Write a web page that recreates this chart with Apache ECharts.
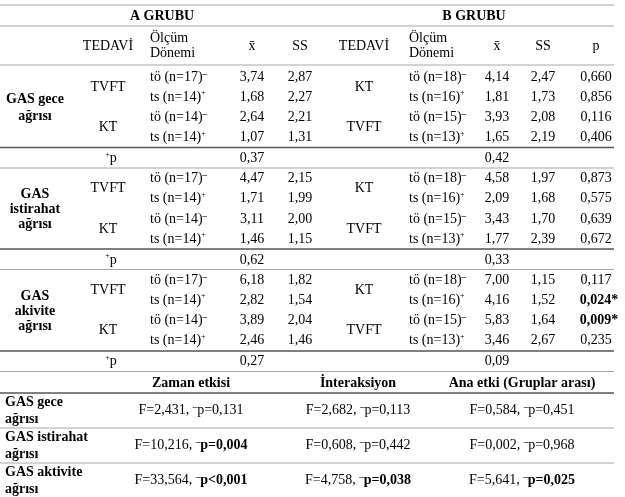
<!DOCTYPE html>
<html><head><meta charset="utf-8">
<script src="https://cdn.jsdelivr.net/npm/echarts@6/dist/echarts.min.js"></script>
<style>html,body{margin:0;padding:0;background:#fff}#c{width:625px;height:497px}</style>
</head><body><div id="c"></div>
<script>
// ---------------- data ----------------
const groupTitles = ['A GRUBU', 'B GRUBU'];
const headerA = ['TEDAVİ', 'Ölçüm\nDönemi', 'x̄', 'SS'];
const headerB = ['TEDAVİ', 'Ölçüm\nDönemi', 'x̄', 'SS', 'p'];
const measures = ['GAS gece\nağrısı', 'GAS\nistirahat\nağrısı', 'GAS\nakivite\nağrısı'];
const treatA = ['TVFT', 'KT'];
const treatB = ['KT', 'TVFT'];
const periodA = [['tö', 17], ['ts', 14], ['tö', 14], ['ts', 14]];
const periodB = [['tö', 18], ['ts', 16], ['tö', 15], ['ts', 13]];
const meanA = [[3.74, 1.68, 2.64, 1.07], [4.47, 1.71, 3.11, 1.46], [6.18, 2.82, 3.89, 2.46]];
const sdA   = [[2.87, 2.27, 2.21, 1.31], [2.15, 1.99, 2.00, 1.15], [1.82, 1.54, 2.04, 1.46]];
const meanB = [[4.14, 1.81, 3.93, 1.65], [4.58, 2.09, 3.43, 1.77], [7.00, 4.16, 5.83, 3.46]];
const sdB   = [[2.47, 1.73, 2.08, 2.19], [1.97, 1.68, 1.70, 2.39], [1.15, 1.52, 1.64, 2.67]];
const pAB   = [[0.660, 0.856, 0.116, 0.406], [0.873, 0.575, 0.639, 0.672], [0.117, 0.024, 0.009, 0.235]];
const plusPA = [0.37, 0.62, 0.27];
const plusPB = [0.42, 0.33, 0.09];

const effects = ['Zaman etkisi', 'İnteraksiyon', 'Ana etki (Gruplar arası)'];
const effectRows = ['GAS gece\nağrısı', 'GAS istirahat\nağrısı', 'GAS aktivite\nağrısı'];
const effectF = [[2.431, 2.682, 0.584], [10.216, 0.608, 0.002], [33.564, 4.758, 5.641]];
const effectP = [['=0,131', '=0,113', '=0,451'], ['=0,004', '=0,442', '=0,968'], ['<0,001', '=0,038', '=0,025']];

// ---------------- layout ----------------
const FONT = '"Liberation Serif", "Times New Roman", serif';
const FS = 14;
const L = { x0: 0, x1: 614 };
const CX = { label: 35, tedA: 108, perA: 150, meanA: 252, sdA: 300, tedB: 364, perB: 409, meanB: 497, sdB: 543, p: 596, plusP: 111, grpA: 162, grpB: 474 };
const CY = { grp: 16, hdr: 46, row0: 77, rowStep: 20.2, blockStep: 101.5, plusP: 158.5 };
const BX = { label: 5, cols: [191, 358, 522] };
const BY = { hdr: 383, row0: 410.5, rowStep: 35 };
const lightLines = [5, 26, 65, 168, 269.5, 371.5, 428, 463];
const darkLines = [147.5, 249, 351, 393];

const fmt2 = v => v.toFixed(2).replace('.', ',');
const fmt3 = v => v.toFixed(3).replace('.', ',');

// ---------------- build cells ----------------
const cells = [];
function cell(x, y, text, align, opt) { cells.push(Object.assign({ x, y, text, align: align || 'center' }, opt || {})); }
const perText = (p) => '{n|' + p[0] + ' (n=' + p[1] + ')}' + (p[0] === 'tö' ? '{dash|–}' : '{sup|+}');

cell(CX.grpA, CY.grp, groupTitles[0], 'center', { bold: true });
cell(CX.grpB, CY.grp, groupTitles[1], 'center', { bold: true });
cell(CX.tedA, CY.hdr, headerA[0]);
cell(CX.perA, CY.hdr, headerA[1], 'left', { lh: 15 });
cell(CX.meanA, CY.hdr, headerA[2]);
cell(CX.sdA, CY.hdr, headerA[3]);
cell(CX.tedB, CY.hdr, headerB[0]);
cell(CX.perB, CY.hdr, headerB[1], 'left', { lh: 15 });
cell(CX.meanB, CY.hdr, headerB[2]);
cell(CX.sdB, CY.hdr, headerB[3]);
cell(CX.p, CY.hdr, headerB[4]);

measures.forEach((m, k) => {
  const base = CY.row0 + k * CY.blockStep;
  const rowY = r => base + r * CY.rowStep;
  const mid = (rowY(0) + rowY(3)) / 2;
  cell(CX.label, mid + 1, m, 'center', { bold: true, lh: k === 0 ? 17 : 15 });
  treatA.forEach((t, j) => cell(CX.tedA, (rowY(2 * j) + rowY(2 * j + 1)) / 2, t));
  treatB.forEach((t, j) => cell(CX.tedB, (rowY(2 * j) + rowY(2 * j + 1)) / 2, t));
  for (let r = 0; r < 4; r++) {
    cell(CX.perA, rowY(r), perText(periodA[r]), 'left', { rich: true });
    cell(CX.meanA, rowY(r), fmt2(meanA[k][r]));
    cell(CX.sdA, rowY(r), fmt2(sdA[k][r]));
    cell(CX.perB, rowY(r), perText(periodB[r]), 'left', { rich: true });
    cell(CX.meanB, rowY(r), fmt2(meanB[k][r]));
    cell(CX.sdB, rowY(r), fmt2(sdB[k][r]));
    const pv = pAB[k][r];
    cell(CX.p + (pv < 0.05 ? 3 : 0), rowY(r), fmt3(pv) + (pv < 0.05 ? '*' : ''), 'center', { bold: pv < 0.05 });
  }
  const py = CY.plusP + k * CY.blockStep;
  cell(CX.plusP, py, '{sup|+}{n|p}', 'center', { rich: true });
  cell(CX.meanA, py, fmt2(plusPA[k]));
  cell(CX.meanB, py, fmt2(plusPB[k]));
});

effects.forEach((e, j) => cell(BX.cols[j], BY.hdr, e, 'center', { bold: true }));
effectRows.forEach((lab, i) => {
  const y = BY.row0 + i * BY.rowStep;
  cell(BX.label, y, lab, 'left', { bold: true, lh: 17 });
  effects.forEach((e, j) => {
    const ptxt = effectP[i][j];
    const pnum = parseFloat(ptxt.slice(1).replace(',', '.'));
    const sig = pnum < 0.05;
    const fStr = effectF[i][j].toFixed(3).replace('.', ',');
    const t = '{n|F=' + fStr + ', }{dash|–}' + (sig ? '{b|p' + ptxt + '}' : '{n|p' + ptxt + '}');
    cell(BX.cols[j], y, t, 'center', { rich: true });
  });
});

const lines = lightLines.map(y => ({ y, c: '#a8a8a8', w: 1.2 })).concat(darkLines.map(y => ({ y, c: '#555', w: 1.5 })));

// ---------------- chart ----------------
const chart = echarts.init(document.getElementById('c'), null, { renderer: 'canvas' });
const richStyles = {
  n: { fontFamily: FONT, fontSize: FS, fill: '#000', lineHeight: 16 },
  b: { fontFamily: FONT, fontSize: FS, fontWeight: 'bold', fill: '#000', lineHeight: 16 },
  sup: { fontFamily: FONT, fontSize: 8, fill: '#000', lineHeight: 9, verticalAlign: 'top' },
  dash: { fontFamily: FONT, fontSize: 9, fontWeight: 'bold', fill: '#000', lineHeight: 6, verticalAlign: 'top' }
};

chart.setOption({
  animation: false,
  backgroundColor: '#fff',
  grid: { left: 0, right: 0, top: 0, bottom: 0 },
  xAxis: { type: 'value', min: 0, max: 625, show: false },
  yAxis: { type: 'value', min: 0, max: 497, inverse: true, show: false },
  series: [
    {
      type: 'custom',
      coordinateSystem: 'cartesian2d',
      data: lines.map((l, i) => [L.x0, l.y, i]),
      renderItem: function (params, api) {
        const l = lines[api.value(2)];
        const p0 = api.coord([L.x0, l.y]);
        const p1 = api.coord([L.x1, l.y]);
        return { type: 'line', shape: { x1: p0[0], y1: p0[1], x2: p1[0], y2: p1[1] }, style: { stroke: l.c, lineWidth: l.w } };
      },
      silent: true
    },
    {
      type: 'custom',
      coordinateSystem: 'cartesian2d',
      data: cells.map((c, i) => [c.x, c.y, i]),
      renderItem: function (params, api) {
        const c = cells[api.value(2)];
        const p = api.coord([api.value(0), api.value(1)]);
        const style = {
          x: p[0], y: p[1], text: c.text, align: c.align, verticalAlign: 'middle',
          fill: '#000', fontFamily: FONT, fontSize: FS, fontWeight: c.bold ? 'bold' : 'normal',
          lineHeight: c.lh || 16
        };
        if (c.rich) style.rich = richStyles;
        return { type: 'text', style };
      },
      silent: true
    }
  ]
});
</script></body></html>
